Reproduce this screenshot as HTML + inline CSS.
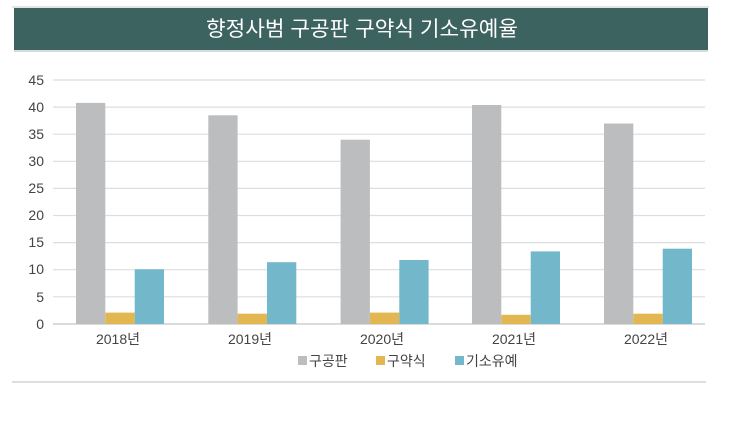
<!DOCTYPE html>
<html><head><meta charset="utf-8"><style>
body{margin:0;background:#fff;width:741px;height:416px;overflow:hidden;font-family:"Liberation Sans","Noto Sans CJK KR",sans-serif}
</style></head><body>
<svg width="741" height="416" xmlns="http://www.w3.org/2000/svg" font-family="Liberation Sans, Noto Sans CJK KR, sans-serif">
<rect x="12" y="6" width="697" height="2" fill="#e4e4e4"/>
<rect x="14" y="8" width="694" height="42" fill="#3d6360"/>
<rect x="14" y="50" width="694" height="2" fill="#d6dcdb"/>
<text x="362" y="36" text-anchor="middle" font-size="21" fill="#fff" textLength="312" lengthAdjust="spacingAndGlyphs">향정사범 구공판 구약식 기소유예율</text>
<g stroke="#dedede" stroke-width="1.2">
<line x1="53" x2="705" y1="80" y2="80"/><line x1="53" x2="705" y1="107.1" y2="107.1"/>
<line x1="53" x2="705" y1="134.2" y2="134.2"/><line x1="53" x2="705" y1="161.3" y2="161.3"/>
<line x1="53" x2="705" y1="188.4" y2="188.4"/><line x1="53" x2="705" y1="215.5" y2="215.5"/>
<line x1="53" x2="705" y1="242.6" y2="242.6"/><line x1="53" x2="705" y1="269.7" y2="269.7"/>
<line x1="53" x2="705" y1="296.8" y2="296.8"/>
</g>
<line x1="53" x2="705" y1="324" y2="324" stroke="#cfcfcf" stroke-width="1.5"/>
<g font-size="14" fill="#444" text-anchor="end">
<text x="44" y="85">45</text><text x="44" y="112">40</text><text x="44" y="139">35</text>
<text x="44" y="166">30</text><text x="44" y="193">25</text><text x="44" y="220">20</text>
<text x="44" y="247">15</text><text x="44" y="274">10</text><text x="44" y="302">5</text>
<text x="44" y="329">0</text>
</g>
<g>
<rect x="76" y="102.9" width="29.3" height="221.1" fill="#bcbdbf"/>
<rect x="105.3" y="312.6" width="29.4" height="11.4" fill="#e2b650"/>
<rect x="134.7" y="269.3" width="29.3" height="54.7" fill="#72b8ca"/>
<rect x="208.3" y="115.3" width="29.3" height="208.7" fill="#bcbdbf"/>
<rect x="237.6" y="313.7" width="29.4" height="10.3" fill="#e2b650"/>
<rect x="267" y="262.2" width="29.3" height="61.8" fill="#72b8ca"/>
<rect x="340.6" y="139.7" width="29.3" height="184.3" fill="#bcbdbf"/>
<rect x="369.9" y="312.6" width="29.4" height="11.4" fill="#e2b650"/>
<rect x="399.3" y="260" width="29.3" height="64" fill="#72b8ca"/>
<rect x="472" y="105" width="29.3" height="219" fill="#bcbdbf"/>
<rect x="501.3" y="314.8" width="29.4" height="9.2" fill="#e2b650"/>
<rect x="530.7" y="251.4" width="29.3" height="72.6" fill="#72b8ca"/>
<rect x="604" y="123.5" width="29.3" height="200.5" fill="#bcbdbf"/>
<rect x="633.3" y="313.7" width="29.4" height="10.3" fill="#e2b650"/>
<rect x="662.7" y="248.7" width="29.3" height="75.3" fill="#72b8ca"/>
</g>
<g font-size="14" fill="#444" text-anchor="middle">
<text x="118" y="344">2018년</text><text x="250" y="344">2019년</text><text x="382" y="344">2020년</text>
<text x="514" y="344">2021년</text><text x="646" y="344">2022년</text>
</g>
<g font-size="14" fill="#444">
<rect x="298" y="356" width="9" height="9" fill="#bcbdbf"/><text x="309" y="366">구공판</text>
<rect x="376" y="356" width="9" height="9" fill="#e2b650"/><text x="387" y="366">구약식</text>
<rect x="455" y="356" width="9" height="9" fill="#72b8ca"/><text x="466" y="366">기소유예</text>
</g>
<rect x="12" y="381" width="694" height="2" fill="#dedede"/>
</svg>
</body></html>
